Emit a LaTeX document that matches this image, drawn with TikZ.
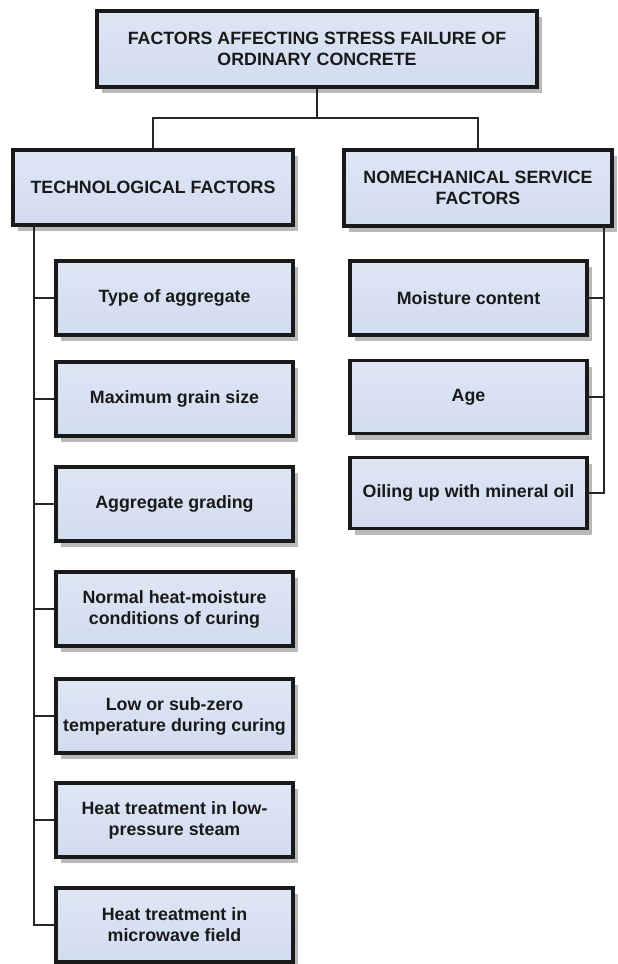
\documentclass[tikz,border=0pt]{standalone}
\usepackage{fontspec}
\setmainfont{Liberation Sans}
\usetikzlibrary{shadows}

\definecolor{boxtop}{HTML}{DEE6F5}
\definecolor{boxbot}{HTML}{D2DCF0}
\definecolor{linegray}{HTML}{262626}

\tikzset{
	factorbox/.style={draw=black!90, line width=3.2pt, rectangle,
		top color=boxtop, bottom color=boxbot,
		drop shadow={shadow xshift=5pt, shadow yshift=-6pt, fill=black!50, opacity=.55},
		align=center, inner sep=2pt, text=black!90,
		font=\fontsize{17.8}{21}\selectfont\bfseries},
	link/.style={draw=linegray, line width=1.8pt}
}

\begin{document}
\begin{tikzpicture}[x=1pt, y=-1pt]
	\useasboundingbox (0,0) rectangle (618,964);

	% main box and the two groups
	\node[factorbox, minimum width=440pt, minimum height=76pt] (main) at (317,49)
		{FACTORS AFFECTING STRESS FAILURE OF\\ORDINARY CONCRETE};
	\node[factorbox, minimum width=280pt, minimum height=75pt] (tech) at (153,187.5)
		{TECHNOLOGICAL FACTORS};
	\node[factorbox, minimum width=268pt, minimum height=76pt] (serv) at (478,188)
		{NOMECHANICAL SERVICE\\FACTORS};

	\coordinate (split) at (317,118);
	\draw[link] (main.south) -- (split);
	\draw[link] (tech.north) |- (split) -| (serv.north);

	% technological factors
	\foreach \y/\name/\txt in {298/t1/{Type of aggregate},
			399/t2/{Maximum grain size},
			504/t3/{Aggregate grading},
			609/t4/{Normal heat-moisture\\conditions of curing},
			716/t5/{Low or sub-zero\\temperature during curing},
			820/t6/{Heat treatment in low-\\pressure steam},
			925/t7/{Heat treatment in\\microwave field}}
		\node[factorbox, minimum width=237pt, minimum height=74pt] (\name) at (174.5,\y) {\txt};

	\coordinate (techtop) at (34,225);
	\coordinate (techend) at (34,925);
	\draw[link] (techtop) -- (techend) -- (t7.west);
	\foreach \name in {t1,t2,t3,t4,t5,t6}
		\draw[link] (\name.west -| techtop) -- (\name.west);

	% nomechanical service factors
	\node[factorbox, minimum width=237pt, minimum height=74pt] (s1) at (468.5,298) {Moisture content};
	\node[factorbox, minimum width=237pt, minimum height=73pt] (s2) at (468.5,397) {Age};
	\node[factorbox, minimum width=237pt, minimum height=71pt] (s3) at (468.5,493) {Oiling up with mineral oil};

	\coordinate (servtop) at (604,226);
	\draw[link] (servtop) |- (s3.east);
	\foreach \name in {s1,s2}
		\draw[link] (\name.east -| servtop) -- (\name.east);

\end{tikzpicture}
\end{document}
